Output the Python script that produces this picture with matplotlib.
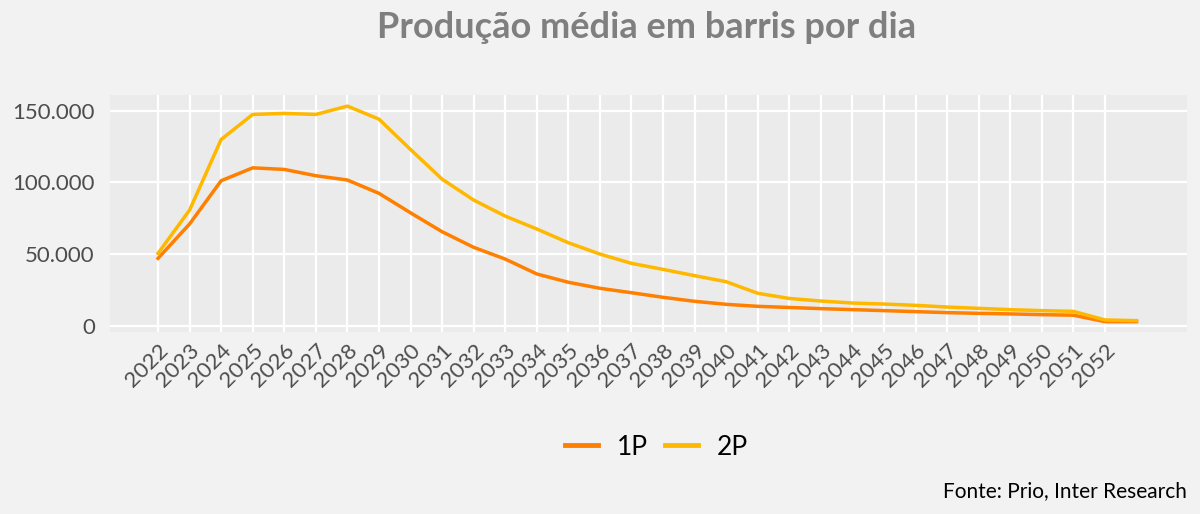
import numpy as np
import matplotlib
matplotlib.use('Agg')
import matplotlib.pyplot as plt
from matplotlib.ticker import FuncFormatter

# Data (barris por dia)
anos = [str(a) for a in range(2022, 2053)]
p1 = [47000, 71000, 101200, 110200, 109100, 104700, 101700, 92400, 78800, 65600,
      54700, 46500, 36100, 30300, 26100, 23000, 19800, 17000, 14900, 13500,
      12700, 11900, 11200, 10500, 9800, 9100, 8600, 8200, 7700, 7300, 2800, 2800]
p2 = [50500, 80700, 130000, 147500, 148200, 147500, 153300, 144200, 123000, 102300,
      87700, 76500, 67500, 57900, 50000, 43500, 39300, 34900, 30700, 22600,
      19000, 17200, 15800, 15100, 14200, 13000, 12100, 11200, 10500, 10000, 4000, 3500]

cor_1p = '#FF7F00'
cor_2p = '#FFB800'

plt.rcParams['font.family'] = ['Lato', 'DejaVu Sans']

fig = plt.figure(figsize=(12, 5.14), dpi=100, facecolor='#F2F2F2')
ax = fig.add_axes([0.0917, 0.354, 0.8975, 0.461])
ax.set_facecolor('#EBEBEB')

x = np.arange(len(p1))
ax.plot(x, p1, color=cor_1p, lw=2.5, label='1P', solid_joinstyle='round')
ax.plot(x, p2, color=cor_2p, lw=2.5, label='2P', solid_joinstyle='round')

ax.set_xlim(-1.52, 32.6)
ax.set_ylim(-4450, 161000)
ax.set_xticks(np.arange(len(anos)))
ax.set_xticklabels(anos, rotation=45, ha='right', rotation_mode='anchor')
ax.set_yticks([0, 50000, 100000, 150000])
ax.yaxis.set_major_formatter(FuncFormatter(lambda v, p: f'{v:,.0f}'.replace(',', '.')))

ax.grid(True, color='white', lw=1.6)
ax.set_axisbelow(True)
for s in ax.spines.values():
    s.set_visible(False)
ax.tick_params(axis='both', length=0, labelsize=16, labelcolor='#4D4D4D')
ax.tick_params(axis='y', pad=11)
ax.tick_params(axis='x', pad=6)

fig.text(0.539, 0.947, 'Produção média em barris por dia', ha='center', va='center',
         fontsize=26, fontweight='bold', color='#7F7F7F')

leg = fig.legend(loc='center', bbox_to_anchor=(0.547, 0.13), ncol=2, frameon=False,
                 fontsize=19, handlelength=1.25, handletextpad=0.7, columnspacing=0.65)
for h in leg.get_lines():
    h.set_linewidth(3.5)

fig.text(0.989, 0.045, 'Fonte: Prio, Inter Research', ha='right', va='center',
         fontsize=15, color='black')

plt.savefig('out.png', dpi=100, facecolor=fig.get_facecolor())
